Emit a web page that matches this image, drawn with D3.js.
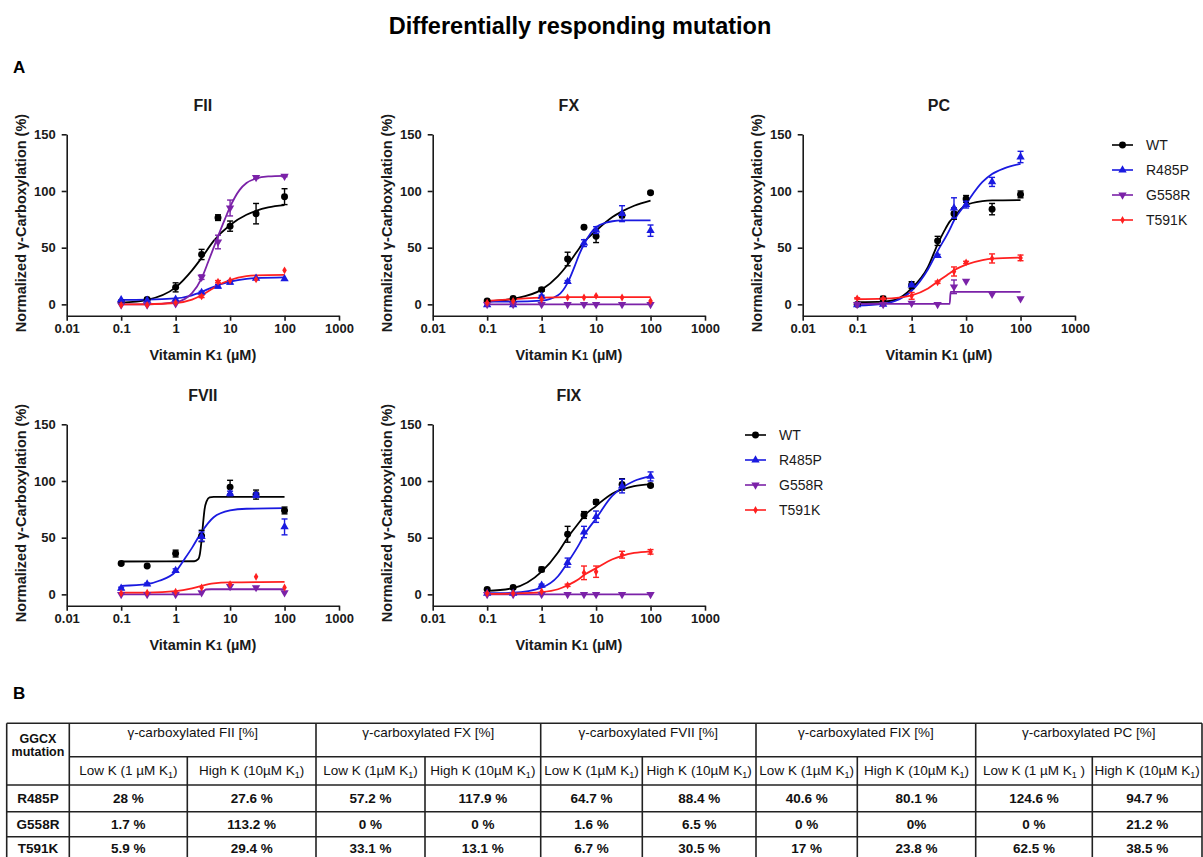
<!DOCTYPE html>
<html lang="en">
<head>
<meta charset="UTF-8">
<title>Differentially responding mutation</title>
<script src="https://d3js.org/d3.v7.min.js"></script>
<style>
  body { margin: 0; background: #fff; }
  svg { display: block; font-family: Arial, "Liberation Sans", sans-serif; }
</style>
</head>
<body>
<svg id="fig" width="1203" height="857"></svg>
<script>
// vitamin K1 doses (µM)
const doses = [0.1, 0.3, 1, 3, 6, 10, 30, 100];
const dosesFVII = [0.1, 0.3, 1, 3, 10, 30, 100];
const seriesNames = ["WT", "R485P", "G558R", "T591K"];

// FII : means, error bars, fitted curve points  (order WT, R485P, G558R, T591K)
const fiiMeans = [
  [2, 4.4, 15, 44, 76.5, 69, 80, 95],
  [4, 3.5, 4.5, 10.5, 16, 19.5, 23, 22.5],
  [-0.5, -0.5, 0.5, 24, 55, 85, 112, 113],
  [-0.5, -0.5, 1.5, 7, 20, 21, 22, 30]
];
const fiiErrs = [
  [1, 1, 4, 4.5, 2.5, 4.5, 9, 7],
  [0, 0, 0, 1, 1.5, 1.5, 0, 0],
  [0, 0, 0, 2, 6, 7, 1, 0.5],
  [0, 0, 0, 1, 1, 0, 0, 0]
];
const fiiCurves = [
  [[0.1,1.5],[0.3,4],[1,15],[2,30],[3,41],[5,56],[10,70],[20,79],[30,82.5],[50,85.5],[100,87.5]],
  [[0.1,4],[0.3,4.1],[1,5.2],[2,8],[3,11],[5,15.5],[10,20],[20,22.5],[30,23.2],[100,23.8]],
  [[0.1,0],[0.3,0],[1,2],[2,10],[3,23],[4,38],[5,50],[6,60],[8,75],[10,86],[15,101],[20,107],[30,111],[50,112.8],[100,113.3]],
  [[0.1,0],[0.3,0.1],[1,1.2],[2,4.2],[3,8],[5,14.5],[6,16.8],[10,21.5],[20,25],[30,25.6],[100,26]]
];

// FX
const fxMeans = [
  [3, 5.3, 13, 40, 68, 60, 78.5, 98.5],
  [-0.5, -0.5, 7, 20, 54, 65.5, 80, 65],
  [0, 0, 0, 0, 0, 0, 0, 0],
  [1.5, 3, 4.5, 6, 6, 7.5, 6, 3]
];
const fxErrs = [
  [0.5, 0.5, 1.5, 6, 1, 5.5, 2, 1],
  [0, 0, 1, 1, 3, 3, 7, 5],
  [0, 0, 0, 0, 0, 0, 0, 0],
  [0, 0, 0, 0, 0, 0, 0, 0]
];
const fxCurves = [
  [[0.1,2.5],[0.3,5],[1,13],[2,25],[3,35],[5,50],[6,55],[10,65],[20,77],[30,82],[50,87],[100,91.5]],
  [[0.1,2.5],[0.3,2.5],[1,3.3],[2,8],[3,19],[4,33],[5,45],[6,53],[8,63],[10,68],[15,72],[20,73.3],[30,74],[100,74]],
  [[0.1,0],[1,0],[10,0],[100,0]],
  [[0.1,3],[0.3,4.5],[0.5,5.3],[1,6],[3,6.3],[100,6.3]]
];

// PC
const pcMeans = [
  [0, 5, 17, 56, 80, 93, 84, 97],
  [-0.5, 0, 17, 43, 85, 88, 108, 130],
  [0, 0, 1, 0, 15.5, 20.5, 9, 5],
  [5.3, 5, 7.5, 19.5, 29, 37, 40.5, 41]
];
const pcErrs = [
  [0.5, 2, 3, 4, 5, 3, 5, 3],
  [0, 0, 1, 1, 9, 3, 4, 5],
  [0, 0, 0, 0, 6, 0, 0, 0],
  [0.5, 0.5, 3, 1, 4, 1, 4, 2.5]
];
const pcCurves = [
  [[0.1,2],[0.3,2.5],[0.5,4],[1,14],[2,33],[3,53],[4,65],[5,73],[6,77],[8,84],[10,87.5],[20,91],[30,91.7],[100,92]],
  [[0.1,-1],[0.3,0.5],[0.5,3],[1,12],[2,31],[3,47],[5,66],[6,74],[10,89],[20,108],[30,115],[50,120],[100,124]],
  [[0.1,0.5],[5.0,0.5],[5.2,11],[100,11]],
  [[0.1,4.5],[0.3,5],[1,8],[2,14],[3,20],[5,27.5],[6,30],[10,35],[20,39],[30,40.3],[100,41.3]]
];

// FVII
const fviiMeans = [
  [27.3, 25, 36, 51.5, 94.6, 88, 74],
  [5.3, 9, 21, 51, 89, 87.5, 59.5],
  [0, 0, 0, 1.5, 7, 6, 1.5],
  [1, 1.5, 2.3, 6, 9, 15.5, 6]
];
const fviiErrs = [
  [1, 0.5, 3, 5, 6, 4, 3],
  [1, 1, 1.5, 4, 2, 2, 7],
  [0, 0, 0, 0, 0, 0, 0],
  [0, 0, 0, 0, 0, 0, 0]
];
const fviiCurves = [
  [[0.1,29],[2.2,29.2],[2.6,31],[2.8,36],[3,48],[3.2,63],[3.4,75],[3.7,82],[4.2,85.5],[5,86],[100,86]],
  [[0.1,7.5],[0.3,9],[0.5,12],[1,20],[1.5,32],[2,41],[3,55],[5,68],[10,74],[20,75.5],[100,76]],
  [[0.1,0],[2.8,0],[3.2,2.5],[3.6,4.3],[4.5,4.5],[100,4.5]],
  [[0.1,1.5],[0.3,1.6],[1,2.8],[2,5.3],[3,7.5],[5,9.6],[10,10.5],[100,11]]
];

// FIX
const fixMeans = [
  [4.4, 6, 22, 53, 70, 81.5, 97, 96],
  [1, 1, 8, 28, 55, 68.5, 95.5, 104],
  [0, 0, 0, 0, 0, 0, 0, 0],
  [1, 1, 2.5, 8, 19, 20, 35, 37.5]
];
const fixErrs = [
  [1, 1, 2, 7, 3, 2, 5, 1],
  [0, 0, 1, 4, 5, 5, 6, 4],
  [0, 0, 0, 0, 0, 0, 0, 0],
  [0, 0, 0, 1, 6, 5, 3, 2]
];
const fixCurves = [
  [[0.1,3],[0.3,5.5],[1,20],[2,37],[3,50],[5,64],[6,69],[10,78],[20,89],[30,92.5],[50,95.5],[100,97]],
  [[0.1,1],[0.3,1.5],[1,6],[2,16],[3,28],[5,45],[6,52],[10,67],[20,87],[30,94],[50,100],[100,104]],
  [[0.1,0],[1,0],[10,0],[100,0]],
  [[0.1,0.5],[0.3,0.8],[1,2],[2,4.5],[3,8],[5,14],[6,17],[10,23],[20,31],[30,34],[50,36.5],[100,38]]
];

const xTicks = [0.01, 0.1, 1, 10, 100, 1000];
const yTicks = [0, 50, 100, 150];

// table B
const tableGroups = ["FII", "FX", "FVII", "FIX", "PC"];
const tableLow = [["Low K (1 µM K", ")"], ["Low K (1µM K", ")"], ["Low K (1µM K", ")"], ["Low K (1µM K", ")"], ["Low K (1 µM K", " )"]];
const tableHigh = ["High K (10µM K", ")"];
const tableMutations = ["R485P", "G558R", "T591K"];
const tableValues = [
  ["28 %", "27.6 %", "57.2 %", "117.9 %", "64.7 %", "88.4 %", "40.6 %", "80.1 %", "124.6 %", "94.7 %"],
  ["1.7 %", "113.2 %", "0 %", "0 %", "1.6 %", "6.5 %", "0 %", "0%", "0 %", "21.2 %"],
  ["5.9 %", "29.4 %", "33.1 %", "13.1 %", "6.7 %", "30.5 %", "17 %", "23.8 %", "62.5 %", "38.5 %"]
];

// styles
const colors = ["#000000", "#1a1ae0", "#7b22a8", "#ff2020"];
const symbols = [
  {type: d3.symbolCircle, size: 38, rot: 0},
  {type: d3.symbolTriangle, size: 30, rot: 0},
  {type: d3.symbolTriangle, size: 30, rot: 180},
  {type: d3.symbolDiamond, size: 18, rot: 0}
];
const textColor = "#1a1a1a";

const svg = d3.select("#fig");

// titles
svg.append("text").attr("x", 580).attr("y", 34).attr("text-anchor", "middle")
  .attr("font-size", 23.5).attr("font-weight", "bold").attr("fill", "#000")
  .text("Differentially responding mutation");
svg.append("text").attr("x", 13).attr("y", 73).attr("font-size", 17)
  .attr("font-weight", "bold").text("A");
svg.append("text").attr("x", 13).attr("y", 699).attr("font-size", 17)
  .attr("font-weight", "bold").text("B");

const panels = [
  {name: "FII", x0: 66.7, dy: 0, doses: doses, means: fiiMeans, errs: fiiErrs, curves: fiiCurves},
  {name: "FX", x0: 432.7, dy: 0, doses: doses, means: fxMeans, errs: fxErrs, curves: fxCurves},
  {name: "PC", x0: 802.7, dy: 0, doses: doses, means: pcMeans, errs: pcErrs, curves: pcCurves},
  {name: "FVII", x0: 66.7, dy: 290, doses: dosesFVII, means: fviiMeans, errs: fviiErrs, curves: fviiCurves},
  {name: "FIX", x0: 432.7, dy: 290, doses: doses, means: fixMeans, errs: fixErrs, curves: fixCurves}
];

panels.forEach(p => {
  const x = d3.scaleLog().domain([0.01, 1000]).range([p.x0, p.x0 + 272.3]);
  const y = d3.scaleLinear().domain([-10, 150]).range([315.7 + p.dy, 134.3 + p.dy]);
  const g = svg.append("g");

  // axes
  const ax = g.append("g").attr("transform", `translate(0,${y(-10)})`)
    .call(d3.axisBottom(x).tickValues(xTicks).tickFormat(d => String(d))
      .tickSize(5).tickSizeOuter(0).tickPadding(3));
  const ay = g.append("g").attr("transform", `translate(${p.x0},0)`)
    .call(d3.axisLeft(y).tickValues(yTicks).tickSize(5).tickSizeOuter(0).tickPadding(6));
  [ax, ay].forEach(a => {
    a.selectAll(".domain, .tick line").attr("stroke", textColor).attr("stroke-width", 1.6);
    a.selectAll("text").attr("font-size", 13).attr("font-weight", "bold")
      .attr("fill", textColor).attr("font-family", "Arial, 'Liberation Sans', sans-serif");
  });

  const cx = p.x0 + 136.15;
  g.append("text").attr("x", cx).attr("y", 111 + p.dy).attr("text-anchor", "middle")
    .attr("font-size", 16).attr("font-weight", "bold").attr("fill", textColor).text(p.name);

  const xl = g.append("text").attr("x", cx).attr("y", 360 + p.dy).attr("text-anchor", "middle")
    .attr("font-size", 14.5).attr("font-weight", "bold").attr("fill", textColor);
  xl.append("tspan").text("Vitamin K");
  xl.append("tspan").attr("font-size", 11).text("1");
  xl.append("tspan").text(" (µM)");

  g.append("text")
    .attr("transform", `translate(${p.x0 - 41},${223 + p.dy}) rotate(-90)`)
    .attr("text-anchor", "middle").attr("font-size", 14.5).attr("font-weight", "bold")
    .attr("fill", textColor).text("Normalized γ-Carboxylation (%)");

  // fitted curves
  const line = d3.line().x(d => x(d[0])).y(d => y(d[1])).curve(d3.curveMonotoneX);
  p.curves.forEach((c, i) => {
    g.append("path").datum(c).attr("fill", "none").attr("stroke", colors[i])
      .attr("stroke-width", 1.8).attr("d", line);
  });

  // error bars + points
  p.means.forEach((m, i) => {
    const pts = m.map((v, j) => ({dose: p.doses[j], v: v, e: p.errs[i][j]}));
    const eb = g.append("g").attr("stroke", colors[i]).attr("stroke-width", 1.4);
    pts.filter(d => d.e > 0).forEach(d => {
      const px = x(d.dose);
      eb.append("line").attr("x1", px).attr("x2", px).attr("y1", y(d.v - d.e)).attr("y2", y(d.v + d.e));
      eb.append("line").attr("x1", px - 3).attr("x2", px + 3).attr("y1", y(d.v - d.e)).attr("y2", y(d.v - d.e));
      eb.append("line").attr("x1", px - 3).attr("x2", px + 3).attr("y1", y(d.v + d.e)).attr("y2", y(d.v + d.e));
    });
    const s = symbols[i];
    g.selectAll(null).data(pts).enter().append("path")
      .attr("d", d3.symbol().type(s.type).size(s.size))
      .attr("transform", d => `translate(${x(d.dose)},${y(d.v)}) rotate(${s.rot})`)
      .attr("fill", colors[i]);
  });
});

// legends
function legend(x0, y0) {
  seriesNames.forEach((n, i) => {
    const yy = y0 + i * 25;
    const s = symbols[i];
    svg.append("line").attr("x1", x0).attr("x2", x0 + 21).attr("y1", yy).attr("y2", yy)
      .attr("stroke", colors[i]).attr("stroke-width", 1.6);
    svg.append("path").attr("d", d3.symbol().type(s.type).size(s.size))
      .attr("transform", `translate(${x0 + 10.5},${yy}) rotate(${s.rot})`).attr("fill", colors[i]);
    svg.append("text").attr("x", x0 + 34).attr("y", yy + 5).attr("font-size", 14)
      .attr("fill", textColor).text(n);
  });
}
legend(1112, 145);
legend(745, 435);

// table
const cols = [6.7, 69.3, 187.3, 316, 425, 540.7, 642.3, 756, 857.3, 975.7, 1092.3, 1202];
const rows = [723.3, 756.7, 785, 811.7, 836.7, 862];
const tg = svg.append("g").attr("stroke", "#222").attr("stroke-width", 1.6);
tg.append("line").attr("x1", cols[0]).attr("x2", cols[11]).attr("y1", rows[0]).attr("y2", rows[0]);
tg.append("line").attr("x1", cols[1]).attr("x2", cols[11]).attr("y1", rows[1]).attr("y2", rows[1]);
[2, 3, 4].forEach(r => tg.append("line").attr("x1", cols[0]).attr("x2", cols[11]).attr("y1", rows[r]).attr("y2", rows[r]));
[0, 1, 3, 5, 7, 9, 11].forEach(c => tg.append("line").attr("x1", cols[c]).attr("x2", cols[c]).attr("y1", rows[0]).attr("y2", rows[5]));
[2, 4, 6, 8, 10].forEach(c => tg.append("line").attr("x1", cols[c]).attr("x2", cols[c]).attr("y1", rows[1]).attr("y2", rows[5]));

const tt = svg.append("g").attr("font-size", 13.5).attr("fill", "#111").attr("text-anchor", "middle");
const c0 = (cols[0] + cols[1]) / 2;
tt.append("text").attr("x", c0).attr("y", 743).attr("font-size", 12.5).attr("font-weight", "bold").text("GGCX");
tt.append("text").attr("x", c0).attr("y", 756).attr("font-size", 12.5).attr("font-weight", "bold").text("mutation");
tableGroups.forEach((gname, k) => {
  const a = cols[1 + 2 * k], m = cols[2 + 2 * k], b = cols[3 + 2 * k];
  tt.append("text").attr("x", (a + b) / 2).attr("y", 736.5).text(`γ-carboxylated ${gname} [%]`);
  [[a, m, tableLow[k]], [m, b, tableHigh]].forEach(([l, r, lab]) => {
    const t = tt.append("text").attr("x", (l + r) / 2).attr("y", 774.5);
    t.append("tspan").text(lab[0]);
    t.append("tspan").attr("font-size", 9).attr("dy", 3).text("1");
    t.append("tspan").attr("dy", -3).text(lab[1]);
  });
});
const rowBase = [802.5, 828.5, 853];
tableMutations.forEach((mname, r) => {
  tt.append("text").attr("x", c0).attr("y", rowBase[r]).attr("font-weight", "bold").text(mname);
  tableValues[r].forEach((v, c) => {
    tt.append("text").attr("x", (cols[1 + c] + cols[2 + c]) / 2).attr("y", rowBase[r])
      .attr("font-weight", "bold").text(v);
  });
});
</script>
</body>
</html>
